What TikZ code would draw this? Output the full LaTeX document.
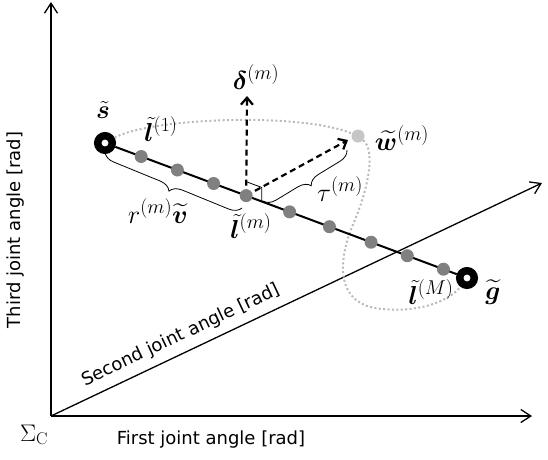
\RequirePackage{fix-cm}
\documentclass[tikz,border=0pt]{standalone}
\usepackage{amsmath}
\usepackage{amssymb}
\usepackage{bm}
\usepackage{fontspec}
\newfontfamily\axisfont{DejaVu Sans}
\usepackage{tikz}
\usetikzlibrary{calc,positioning,arrows.meta,decorations.pathreplacing}
\DeclareMathSizes{26}{26}{20}{15}
\DeclareMathSizes{24}{24}{17}{12}

\begin{document}
\begin{tikzpicture}
[x=1pt,y=-1pt]

    \tikzstyle{axis}=[line width=1.3pt,-{Straight Barb[length=10pt,width=13pt]}]
    \tikzstyle{axislabel}=[font=\axisfont\fontsize{18}{22}\selectfont,inner sep=2pt]
    \tikzstyle{lab}=[font=\fontsize{26}{30}\selectfont,inner sep=0pt]
    \tikzstyle{endpt}=[draw,circle,line width=7.5pt,minimum size=14.5pt,inner sep=0pt,fill=white]
    \tikzstyle{via}=[circle,fill=gray,minimum size=13pt,inner sep=0pt]
    \tikzstyle{dasharrow}=[line width=2.2pt,dash pattern=on 6pt off 4pt,-{Straight Barb[length=7pt,width=12pt]}]
    \tikzstyle{tour}=[gray!55,line width=2pt,dash pattern=on 2pt off 2.4pt]
    \tikzstyle{brc}=[decorate,decoration={brace,amplitude=12pt},line width=0.8pt]

    \useasboundingbox (0,0) rectangle (548,459);

    % the three joint axes
    \coordinate (O) at (51,416);
    \coordinate (X) at (532,416);
    \coordinate (Y) at (51,2);
    \coordinate (Z) at (542,183);
    \draw[axis] (O) -- (X);
    \draw[axis] (O) -- (Y);
    \draw[axis] (O) -- (Z);

    \node[axislabel] (xlab) at (211,440) {First joint angle [rad]};
    \node[axislabel,rotate=90] (ylab) at (16,230) {Third joint angle [rad]};
    \path (O) -- (Z) node[axislabel,pos=0.28,sloped,above=6pt] (zlab) {Second joint angle [rad]};
    \node[inner sep=0pt,font=\fontsize{24}{28}\selectfont] (sigma) at (34,435) {$\Sigma_{\mathrm{C}}$};

    % start and goal, and the line between them
    \node[endpt] (s) at (105,143) {};
    \node[endpt] (g) at (467,278) {};
    \coordinate (lmc) at ($(s)!0.39!(g)$);
    \node[via,fill=gray!45] (w) at (358,136) {};

    \draw[tour] (s) .. controls (150,118) and (300,112) .. (w)
        .. controls (375,150) and (370,185) .. (352,227)
        .. controls (338,262) and (335,305) .. (382,309)
        .. controls (425,313) and (452,298) .. (g);

    \draw[line width=2pt] (s) -- (g);

    \coordinate (dtip) at (247,96);
    \coordinate (wtip) at (348,140);
    \draw[dasharrow] (lmc) -- (dtip);
    \draw[dasharrow] (lmc) -- (wtip);
    \draw[line width=0.8pt] ($(lmc)+(0,-14)$) -- ++(15.5,5.8) -- ++(0,14);

    \foreach \p [count=\i] in {0.1,0.2,0.3,0.51,0.62,0.735,0.835,0.935}
        \node[via] (v\i) at ($(s)!\p!(g)$) {};
    \node[via] (lm) at (lmc) {};

    % braces
    \coordinate (rb1) at (105,152);
    \coordinate (rb2) at (242,208);
    \coordinate (tb1) at (263,201);
    \coordinate (tb2) at (347,150);
    \draw[brc] (rb2) -- (rb1);
    \draw[brc] (tb2) -- (tb1);

    % labels
    \node[lab] (slab) at (103,110) {$\bm{\tilde{s}}$};
    \node[lab] (l1lab) at (161,129) {$\bm{\tilde{l}}^{(1)}$};
    \node[lab] (dlab) at (256,77) {$\bm{\delta}^{(m)}$};
    \node[lab] (wlab) at (402,138) {$\bm{\widetilde{w}}^{(m)}$};
    \node[lab] (rlab) at (158,211) {$r^{(m)}\bm{\widetilde{v}}$};
    \node[lab] (lmlab) at (251,226) {$\bm{\tilde{l}}^{(m)}$};
    \node[lab] (tlab) at (340,189) {$\tau^{(m)}$};
    \node[lab] (lMlab) at (431,292) {$\bm{\tilde{l}}^{(M)}$};
    \node[lab] (glab) at (493,292) {$\bm{\widetilde{g}}$};

 \end{tikzpicture}
\end{document}
